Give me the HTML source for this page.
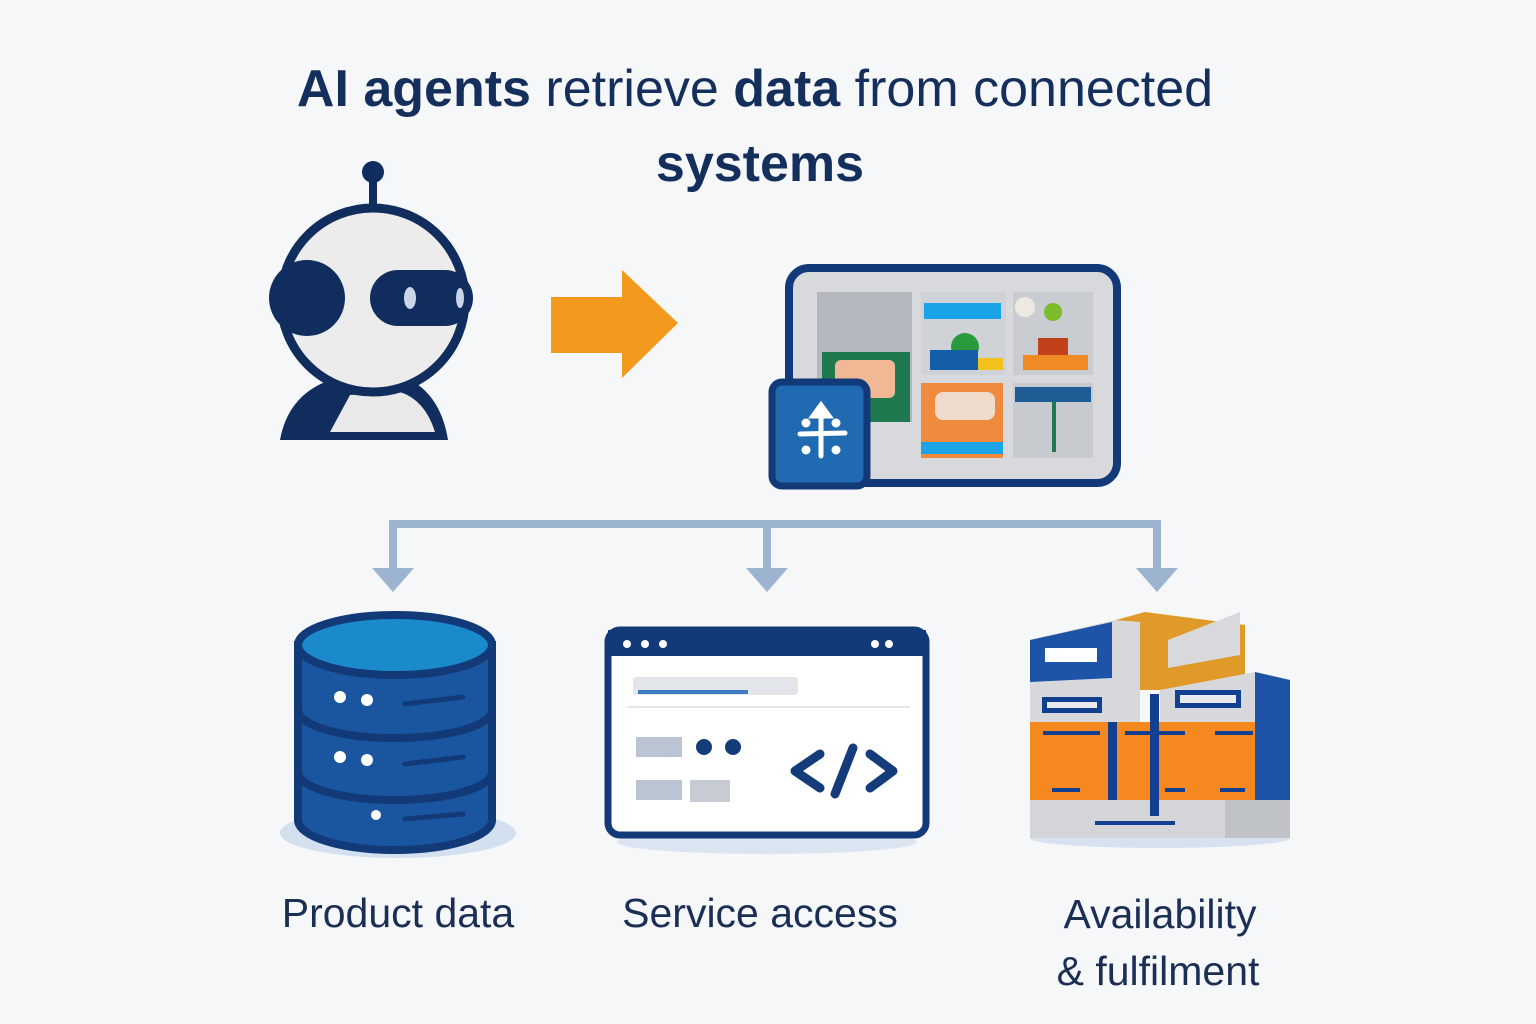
<!DOCTYPE html>
<html><head><meta charset="utf-8"><style>
html,body{margin:0;padding:0;background:#f6f7f9;}
svg{display:block}
</style></head><body>
<svg width="1536" height="1024" viewBox="0 0 1536 1024" xmlns="http://www.w3.org/2000/svg">
<rect width="1536" height="1024" fill="#f6f7f9"/>
<g font-family="Liberation Sans, sans-serif" fill="#152f5c" text-anchor="middle">
<text x="755" y="106" font-size="52"><tspan font-weight="bold">AI agents</tspan> retrieve <tspan font-weight="bold">data</tspan> from connected</text>
<text x="760" y="181" font-size="52" font-weight="bold">systems</text>
</g>
<!-- robot -->
<line x1="373" y1="175" x2="373" y2="218" stroke="#102d5e" stroke-width="8"/>
<circle cx="373" cy="172" r="11" fill="#102d5e"/>
<path d="M280 440 Q290 385 350 375 L400 375 Q440 390 448 440 Z" fill="#102d5e"/>
<path d="M330 432 L350 395 L400 392 Q425 400 435 432 Z" fill="#e9e9ea"/>
<circle cx="373" cy="300" r="92" fill="#ececec" stroke="#102d5e" stroke-width="9"/>
<circle cx="307" cy="298" r="38" fill="#102d5e"/>
<rect x="370" y="270" width="103" height="56" rx="28" fill="#102d5e"/>
<ellipse cx="410" cy="298" rx="6" ry="11" fill="#c9d6ea"/>
<ellipse cx="460" cy="298" rx="4" ry="10" fill="#c9d6ea"/>
<!-- orange arrow -->
<path d="M551 297 L622 297 L622 270 L678 323 L622 378 L622 353 L551 353 Z" fill="#f39a1e"/>
<!-- tablet -->
<rect x="789" y="268" width="328" height="215" rx="20" fill="#d7d9dc" stroke="#123a78" stroke-width="8"/>
<rect x="817" y="292" width="95" height="130" fill="#b4b8be"/>
<rect x="822" y="352" width="88" height="70" fill="#1e7a4e"/>
<rect x="835" y="360" width="60" height="38" rx="6" fill="#f0b894"/>
<rect x="921" y="292" width="85" height="83" fill="#cfd2d6"/>
<rect x="924" y="303" width="77" height="16" fill="#1aa3e6"/>
<circle cx="965" cy="347" r="14" fill="#2a9a3e"/>
<rect x="930" y="350" width="48" height="20" fill="#145ea8"/>
<rect x="978" y="358" width="25" height="12" fill="#f3c21a"/>
<rect x="1013" y="292" width="80" height="83" fill="#c9ccd1"/>
<circle cx="1025" cy="307" r="10" fill="#eeeae2"/>
<circle cx="1053" cy="312" r="9" fill="#7cbc2a"/>
<rect x="1038" y="338" width="30" height="20" fill="#c2411a"/>
<rect x="1023" y="355" width="65" height="15" fill="#f08a24"/>
<rect x="921" y="383" width="82" height="75" fill="#f08a3c"/>
<rect x="935" y="392" width="60" height="28" rx="8" fill="#f0dccc"/>
<rect x="921" y="442" width="82" height="12" fill="#1aa3e6"/>
<rect x="1013" y="383" width="80" height="75" fill="#c7cace"/>
<rect x="1015" y="387" width="76" height="15" fill="#1f5d96"/>
<rect x="1052" y="402" width="4" height="50" fill="#1e7a4e"/>
<rect x="772" y="382" width="95" height="104" rx="10" fill="#1f6ab0" stroke="#123a78" stroke-width="7"/>
<g stroke="#fff" stroke-width="5" stroke-linecap="round" fill="#fff">
<line x1="821" y1="410" x2="821" y2="456"/>
<line x1="800" y1="434" x2="845" y2="433"/>
<path d="M813 416 L821 405 L829 416 Z"/>
<circle cx="806" cy="423" r="2"/><circle cx="836" cy="423" r="2"/>
<circle cx="806" cy="450" r="2"/><circle cx="836" cy="450" r="2"/>
</g>
<!-- connectors -->
<g stroke="#9cb4cf" stroke-width="8" fill="none">
<polyline points="393,570 393,524 1157,524 1157,570"/>
<line x1="767" y1="524" x2="767" y2="570"/>
</g>
<g fill="#9cb4cf">
<path d="M372 568 L414 568 L393 592 Z"/>
<path d="M746 568 L788 568 L767 592 Z"/>
<path d="M1136 568 L1178 568 L1157 592 Z"/>
</g>
<!-- database -->
<ellipse cx="398" cy="833" rx="118" ry="25" fill="#d3e0ef"/>
<path d="M298 645 L298 820 A97 30 0 0 0 492 820 L492 645 Z" fill="#1a55a0" stroke="#123a78" stroke-width="8"/>
<path d="M298 710 A97 28 0 0 0 492 710 M298 772 A97 28 0 0 0 492 772" stroke="#123a78" stroke-width="8" fill="none"/>
<ellipse cx="395" cy="645" rx="97" ry="30" fill="#1a8acb" stroke="#123a78" stroke-width="8"/>
<g fill="#fff"><circle cx="340" cy="697" r="6"/><circle cx="367" cy="700" r="6"/><circle cx="340" cy="757" r="6"/><circle cx="367" cy="760" r="6"/><circle cx="376" cy="815" r="5"/></g>
<g stroke="#123a78" stroke-width="5" stroke-linecap="round"><line x1="405" y1="704" x2="463" y2="697"/><line x1="405" y1="764" x2="463" y2="757"/><line x1="405" y1="819" x2="463" y2="814"/></g>
<!-- window -->
<ellipse cx="767" cy="842" rx="150" ry="12" fill="#dbe5f1"/>
<rect x="608" y="630" width="318" height="205" rx="12" fill="#fff" stroke="#123a78" stroke-width="7"/>
<rect x="608" y="630" width="318" height="26" fill="#123a78"/>
<g fill="#fff"><circle cx="627" cy="644" r="4"/><circle cx="645" cy="644" r="4"/><circle cx="663" cy="644" r="4"/><circle cx="875" cy="644" r="4"/><circle cx="889" cy="644" r="4"/></g>
<rect x="633" y="677" width="165" height="18" rx="3" fill="#e2e5ea"/>
<rect x="638" y="690" width="110" height="4" fill="#3e7cc4"/>
<line x1="628" y1="707" x2="910" y2="707" stroke="#e2e6ec" stroke-width="2"/>
<rect x="636" y="737" width="46" height="20" fill="#bac4d2"/>
<rect x="636" y="780" width="46" height="20" fill="#bac4d2"/>
<rect x="690" y="780" width="40" height="22" fill="#c7ccd4"/>
<circle cx="704" cy="747" r="8" fill="#153c7a"/><circle cx="733" cy="747" r="8" fill="#153c7a"/>
<g stroke="#153c7a" stroke-width="9" fill="none" stroke-linecap="round" stroke-linejoin="round">
<polyline points="820,754 795,771 820,788"/><line x1="853" y1="748" x2="835" y2="794"/><polyline points="870,754 893,771 870,788"/>
</g>
<!-- warehouse -->
<ellipse cx="1160" cy="838" rx="130" ry="10" fill="#d6e2ef"/>
<path d="M1098 625 L1145 612 L1245 625 L1245 690 L1140 690 Z" fill="#e09a2a"/>
<path d="M1168 640 L1240 612 L1240 655 L1168 668 Z" fill="#d7d9dc"/>
<path d="M1030 640 L1115 620 L1140 622 L1140 725 L1030 725 Z" fill="#d6d8db"/>
<path d="M1030 640 L1112 622 L1112 678 L1030 682 Z" fill="#1d54a8"/>
<rect x="1045" y="648" width="52" height="14" fill="#fff"/>
<path d="M1160 690 L1255 672 L1290 680 L1290 800 L1160 800 Z" fill="#d6d8db"/>
<path d="M1255 672 L1290 680 L1290 800 L1255 800 Z" fill="#1d54a8"/>
<rect x="1030" y="722" width="225" height="78" fill="#f5891f"/>
<rect x="1030" y="800" width="260" height="38" fill="#d3d5d8"/>
<rect x="1225" y="800" width="65" height="38" fill="#bfc2c6"/>
<g fill="#123f8f"><rect x="1108" y="722" width="9" height="78"/><rect x="1150" y="694" width="9" height="122"/>
<rect x="1042" y="697" width="60" height="16"/><rect x="1175" y="690" width="66" height="18"/></g>
<g fill="#e8eaee"><rect x="1047" y="702" width="50" height="6"/><rect x="1180" y="695" width="56" height="8"/></g>
<g stroke="#123f8f" stroke-width="4"><line x1="1043" y1="733" x2="1100" y2="733"/><line x1="1125" y1="733" x2="1185" y2="733"/><line x1="1215" y1="733" x2="1253" y2="733"/>
<line x1="1052" y1="790" x2="1080" y2="790"/><line x1="1165" y1="790" x2="1185" y2="790"/><line x1="1220" y1="790" x2="1245" y2="790"/><line x1="1095" y1="823" x2="1175" y2="823"/></g>
<!-- labels -->
<g font-family="Liberation Sans, sans-serif" fill="#1b2f55" font-size="41" text-anchor="middle">
<text x="398" y="927">Product data</text>
<text x="760" y="927">Service access</text>
<text x="1160" y="928">Availability</text>
<text x="1158" y="985">&amp; fulfilment</text>
</g>
</svg>
</body></html>
